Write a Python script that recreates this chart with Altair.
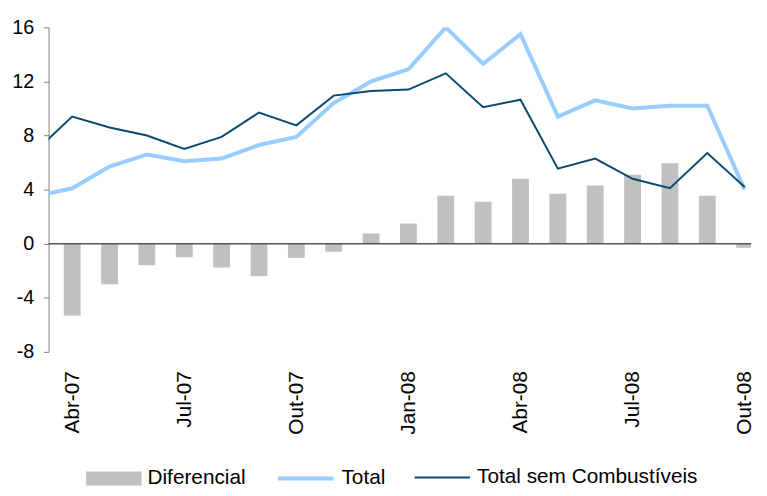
import altair as alt
import pandas as pd

# Months (Mar-07 is only partly visible at the left edge, as in the reference)
months = ["Mar-07", "Abr-07", "Mai-07", "Jun-07", "Jul-07", "Ago-07", "Set-07",
          "Out-07", "Nov-07", "Dez-07", "Jan-08", "Fev-08", "Mar-08", "Abr-08",
          "Mai-08", "Jun-08", "Jul-08", "Ago-08", "Set-08", "Out-08"]

total = [3.5, 4.1, 5.7, 6.6, 6.1, 6.3, 7.3, 7.9, 10.4, 12.0, 12.9, 16.0, 13.3,
         15.5, 9.4, 10.6, 10.0, 10.2, 10.2, 4.0]
total_sem = [6.8, 9.4, 8.6, 8.0, 7.0, 7.9, 9.7, 8.75, 10.95, 11.3, 11.4, 12.6,
             10.1, 10.65, 5.55, 6.3, 4.8, 4.1, 6.7, 4.2]
diferencial = [-3.3, -5.3, -3.0, -1.6, -1.0, -1.75, -2.4, -1.05, -0.6, 0.75,
               1.5, 3.55, 3.1, 4.8, 3.7, 4.3, 5.1, 5.95, 3.55, -0.3]

series = ["Diferencial", "Total", "Total sem Combustíveis"]
colors = ["#C0C0C0", "#99CCFF", "#0B4B6F"]

df = pd.DataFrame({
    "idx": list(range(-1, len(months) - 1)),
    "mes": months,
    series[0]: diferencial,
    series[1]: total,
    series[2]: total_sem,
})

label_array = "[" + ",".join("'" + m + "'" for m in months) + "]"
font = "Liberation Sans"

x_enc = alt.X(
    "idx:Q",
    scale=alt.Scale(domain=[-0.5, 18.04], nice=False, zero=False),
    axis=alt.Axis(
        title=None, values=list(range(0, 19, 3)),
        labelExpr=label_array + "[datum.value + 1]",
        domain=False, ticks=False, grid=False,
        labelAngle=270, labelAlign="right", labelBaseline="middle",
        labelPadding=19, labelFlush=False, labelBound=False, labelOverlap=False,
        labelFont=font, labelFontSize=21, labelColor="#000000",
    ),
)


def y_enc(field):
    return alt.Y(
        field + ":Q",
        scale=alt.Scale(domain=[-8, 16], nice=False, zero=False),
        axis=alt.Axis(
            title=None, values=list(range(-8, 17, 4)), grid=False,
            labelExpr="replace(datum.label, '\u2212', '-')",
            domainColor="#808080", tickColor="#808080", tickSize=5,
            labelPadding=10, labelFont=font, labelFontSize=20, labelColor="#000000",
        ),
    )


def legend(x, y, **kw):
    return alt.Legend(
        title=None, orient="none", legendX=x, legendY=y, symbolSize=3136,
        labelFont=font, labelFontSize=21, labelColor="#000000", labelOffset=6,
        labelLimit=400, **kw,
    )


def color_enc(k, leg):
    return alt.Color(
        "serie:N",
        scale=alt.Scale(domain=[series[k]], range=[colors[k]]),
        legend=leg,
    )


base = alt.Chart(df)

bars = base.transform_calculate(serie="'" + series[0] + "'").mark_bar(
    size=17, clip=True
).encode(
    x=x_enc, y=y_enc(series[0]),
    color=color_enc(0, legend(38, 428, symbolType="M-1,-0.25H1V0.25H-1Z",
                              symbolStrokeWidth=0)),
)

zero = alt.Chart(pd.DataFrame({"z": [0]})).mark_rule(
    color="#555555", strokeWidth=1.5
).encode(y=alt.Y("z:Q", scale=alt.Scale(domain=[-8, 16], nice=False)))

line_total = base.transform_calculate(serie="'" + series[1] + "'").mark_line(
    clip=True, strokeWidth=4, strokeJoin="miter", strokeCap="butt"
).encode(
    x=x_enc, y=y_enc(series[1]),
    color=color_enc(1, legend(230, 426, symbolType="stroke", symbolStrokeWidth=4)),
    order=alt.Order("idx:Q"),
)

line_sem = base.transform_calculate(serie="'" + series[2] + "'").mark_line(
    clip=True, strokeWidth=2, strokeJoin="miter", strokeCap="butt"
).encode(
    x=x_enc, y=y_enc(series[2]),
    color=color_enc(2, legend(369, 426, symbolType="stroke", symbolStrokeWidth=2)),
    order=alt.Order("idx:Q"),
)

chart = alt.layer(bars, zero, line_total, line_sem).resolve_scale(
    color="independent"
).properties(
    width=710, height=328,
    autosize=alt.AutoSizeParams(type="none"),
    padding={"left": 41, "top": 17, "right": 8, "bottom": 135},
).configure_view(stroke=None)

chart.save("out.html", embed_options={"renderer": "svg", "actions": False})
